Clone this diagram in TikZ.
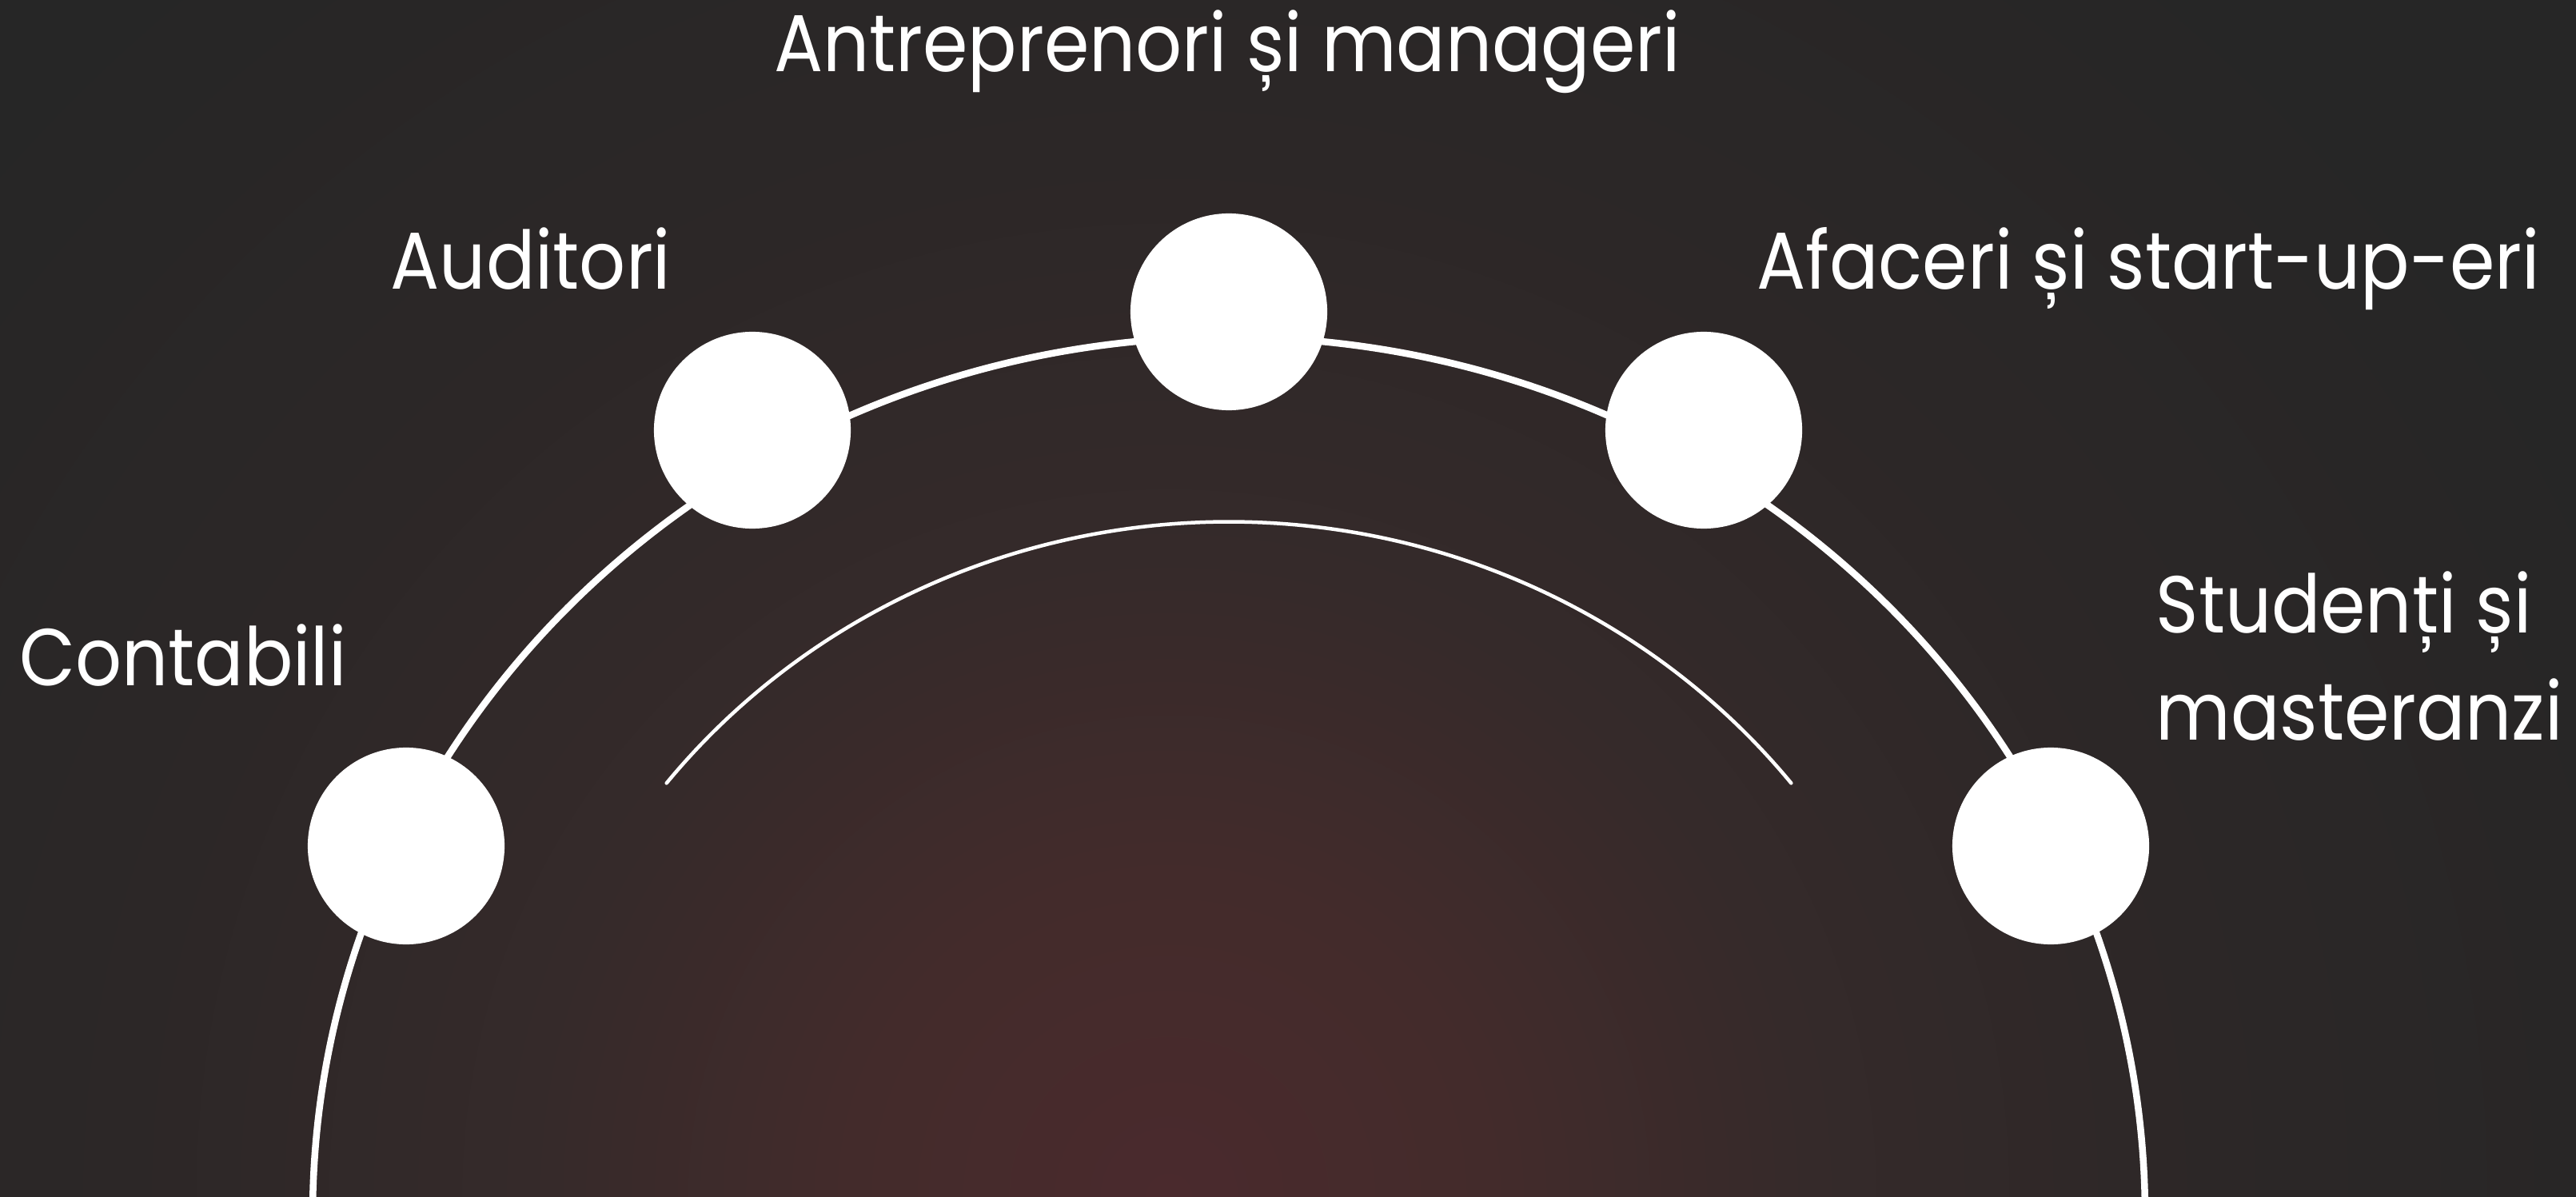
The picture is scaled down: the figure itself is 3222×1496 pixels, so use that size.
\documentclass[tikz,border=0pt]{standalone}
\usepackage{fontspec}
\setmainfont{Poppins}[FakeStretch=0.9]

\definecolor{bgdark}{HTML}{262626}
\definecolor{glowcore}{HTML}{4A2A2D}
\definecolor{glowmid}{HTML}{432B2B}
\definecolor{glowouter}{HTML}{352A2A}
\definecolor{glowfade}{HTML}{2C2727}

% Reddish glow rising from the lower edge (19.2bp = outer end of the glow)
\pgfdeclareradialshading{glow}{\pgfpointorigin}{%
  color(0bp)=(glowcore);
  color(3.85bp)=(glowmid);
  color(7.7bp)=(glowouter);
  color(12.5bp)=(glowfade);
  color(19.2bp)=(bgdark);
  color(50bp)=(bgdark)}

\begin{document}
\begin{tikzpicture}[x=0.01cm, y=0.01cm,
  dot/.style={circle, fill=white, inner sep=0pt, minimum size=2.46cm},
  tag/.style={text=white, font=\fontsize{28.7}{38.1}\selectfont, inner sep=0pt},
  rim/.style={white, line width=0.085cm},
  guide/.style={white, line width=0.045cm, line cap=round}]

  % Canvas and background
  \useasboundingbox (0,0) rectangle (3222,1496);
  \fill[bgdark] (0,0) rectangle (3222,1496);

  % Centre of the ring (just below the lower edge)
  \coordinate (mid) at (1537,-25.5);

  \begin{scope}
    \clip (0,0) rectangle (3222,1496);
    \shade[shading=glow] (1462,0) circle (2600);

    % Outer ring and inner guide arc
    \draw[rim] (mid) ++(180:1146 and 1100)
      arc[start angle=180, end angle=0, x radius=1146, y radius=1100];
    \draw[guide] (mid) ++(141.4:900 and 869)
      arc[start angle=141.4, end angle=38.6, x radius=900, y radius=869];
  \end{scope}

  % Five dots along the ring
  \node[dot] (contabili)    at (508,438)  {};
  \node[dot] (auditori)     at (941,958)  {};
  \node[dot] (antreprenori) at (1537,1106) {};
  \node[dot] (afaceri)      at (2131,958) {};
  \node[dot] (studenti)     at (2565,438) {};

  % Labels
  \node[tag, anchor=base] (lblantr) at (1535,1406) {Antreprenori și manageri};
  \node[tag, anchor=base] (lblaud)  at (664,1134)  {Auditori};
  \node[tag, anchor=base] (lblaf)   at (2687,1134) {Afaceri și start-up-eri};
  \node[tag, anchor=base] (lblcont) at (229,639)   {Contabili};
  \node[tag, anchor=base west, align=left] (lblstud) at (2696,571)
    {Studenți și\\masteranzi};

\end{tikzpicture}
\end{document}
